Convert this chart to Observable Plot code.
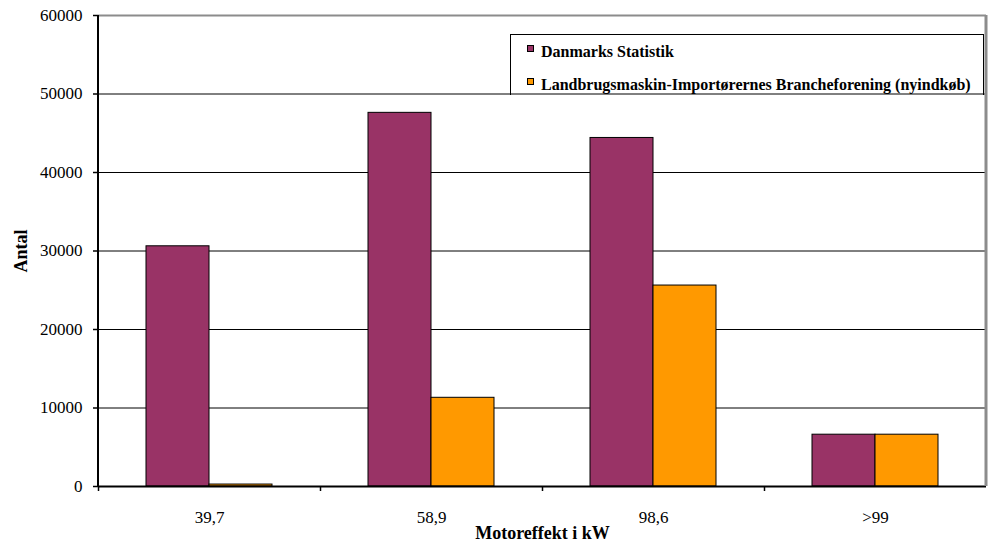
<!DOCTYPE html>
<html>
<head>
<meta charset="utf-8">
<script src="https://cdn.jsdelivr.net/npm/d3@7"></script>
<script src="https://cdn.jsdelivr.net/npm/@observablehq/plot@0.6"></script>
<style>
  html, body { margin: 0; padding: 0; background: #fff; }
  #chart { position: relative; width: 990px; height: 542px; font-family: "Liberation Serif", "Times New Roman", serif; }
  #chart svg { position: absolute; left: 0; top: 0; }
  .legend { position: absolute; left: 510px; top: 34px; width: 474px; height: 61px; box-sizing: border-box;
            border: 1.5px solid #000; border-bottom: none; background: transparent; font-weight: bold; font-size: 16px; color: #000; }
  .legend .item { position: absolute; left: 16px; line-height: 16px; white-space: nowrap; }
  .legend .swatch { position: absolute; left: 0; top: 1px; width: 5px; height: 5px; border: 1px solid #000; }
  .legend .label { position: absolute; left: 14px; top: 0; }
</style>
</head>
<body>
<div id="chart"></div>
<script>
// Traktorer fordelt på motoreffekt (kW)
const categories = ["39,7", "58,9", "98,6", ">99"];
const seriesNames = ["Danmarks Statistik", "Landbrugsmaskin-Importørernes Brancheforening (nyindkøb)"];
const danmarksStatistik = [30600, 47600, 44400, 6600];
const lmiNyindkob = [250, 11300, 25600, 6600];
const seriesColors = ["#993366", "#FF9900"];
const yDomain = [0, 60000];
const yTicks = [0, 10000, 20000, 30000, 40000, 50000, 60000];
const xTitle = "Motoreffekt i kW";
const yTitle = "Antal";

const rows = categories.flatMap((cat, i) => [
  {cat, series: seriesNames[0], value: danmarksStatistik[i]},
  {cat, series: seriesNames[1], value: lmiNyindkob[i]}
]);

const W = 990, H = 542, mL = 98, mR = 4, mT = 15, mB = 56;
const facetStep = (W - mL - mR) / categories.length;

// a thin full-height strip at the left or right edge of one category's panel
const edgeStrip = (cat, side, width, fill) => Plot.barY([{cat}], {
  fx: "cat", y1: () => yDomain[0], y2: () => yDomain[1], fill,
  insetLeft: side === "left" ? -width / 2 : facetStep - width / 2,
  insetRight: side === "left" ? facetStep - width / 2 : -width / 2
});

const svg = Plot.plot({
  width: W, height: H,
  marginLeft: mL, marginRight: mR, marginTop: mT, marginBottom: mB,
  style: {fontFamily: '"Liberation Serif", "Times New Roman", serif', fontSize: "17px", color: "#000"},
  fx: {domain: categories, padding: 0, label: null},
  x: {domain: seriesNames, paddingInner: 0, paddingOuter: 0.76, axis: null},
  y: {domain: yDomain, label: null},
  color: {domain: seriesNames, range: seriesColors},
  marks: [
    Plot.gridY(yTicks.filter(t => t > yDomain[0] && t < yDomain[1]), {stroke: "#000", strokeOpacity: 1, strokeWidth: 1}),
    Plot.barY(rows, {fx: "cat", x: "series", y: "value", fill: "series", stroke: "#000", strokeWidth: 1}),
    // top border of the plot area
    Plot.ruleY([yDomain[1]], {stroke: "#8c8c8c", strokeWidth: 2}),
    Plot.ruleY([yDomain[0]], {stroke: "#000", strokeWidth: 2}),
    Plot.axisY(yTicks, {tickSize: 5, tickPadding: 11, tickFormat: d => String(d), label: null, strokeWidth: 1.5}),
    Plot.axisFx({anchor: "bottom", tickSize: 0, tickPadding: 24, label: null}),
    // category separators below the axis
    Plot.axisFx({anchor: "bottom", tickSize: 5, tickFormat: () => "", dx: -facetStep / 2, label: null, strokeWidth: 1.5}),
    Plot.text([{cat: categories[1], t: xTitle}], {
      fx: "cat", text: "t", frameAnchor: "bottom-right", textAnchor: "middle", lineAnchor: "middle",
      dy: 47, fontWeight: "bold", fontSize: 18
    }),
    Plot.text([{cat: categories[0], t: yTitle}], {
      fx: "cat", text: "t", frameAnchor: "left", textAnchor: "middle", lineAnchor: "middle",
      rotate: -90, dx: -77, fontWeight: "bold", fontSize: 18
    }),
    // right border and value axis line
    edgeStrip(categories[categories.length - 1], "right", 3, "#8c8c8c"),
    edgeStrip(categories[0], "left", 2, "#000")
  ]
});

const chart = document.getElementById("chart");
chart.appendChild(svg);

// Legend box in the upper right of the plot area
const legend = document.createElement("div");
legend.className = "legend";
const itemTops = [9, 42];
seriesNames.forEach((name, i) => {
  const item = document.createElement("div");
  item.className = "item";
  item.style.top = itemTops[i] + "px";
  const sw = document.createElement("span");
  sw.className = "swatch";
  sw.style.background = seriesColors[i];
  const lab = document.createElement("span");
  lab.className = "label";
  lab.textContent = name;
  item.appendChild(sw);
  item.appendChild(lab);
  legend.appendChild(item);
});
chart.appendChild(legend);
</script>
</body>
</html>
